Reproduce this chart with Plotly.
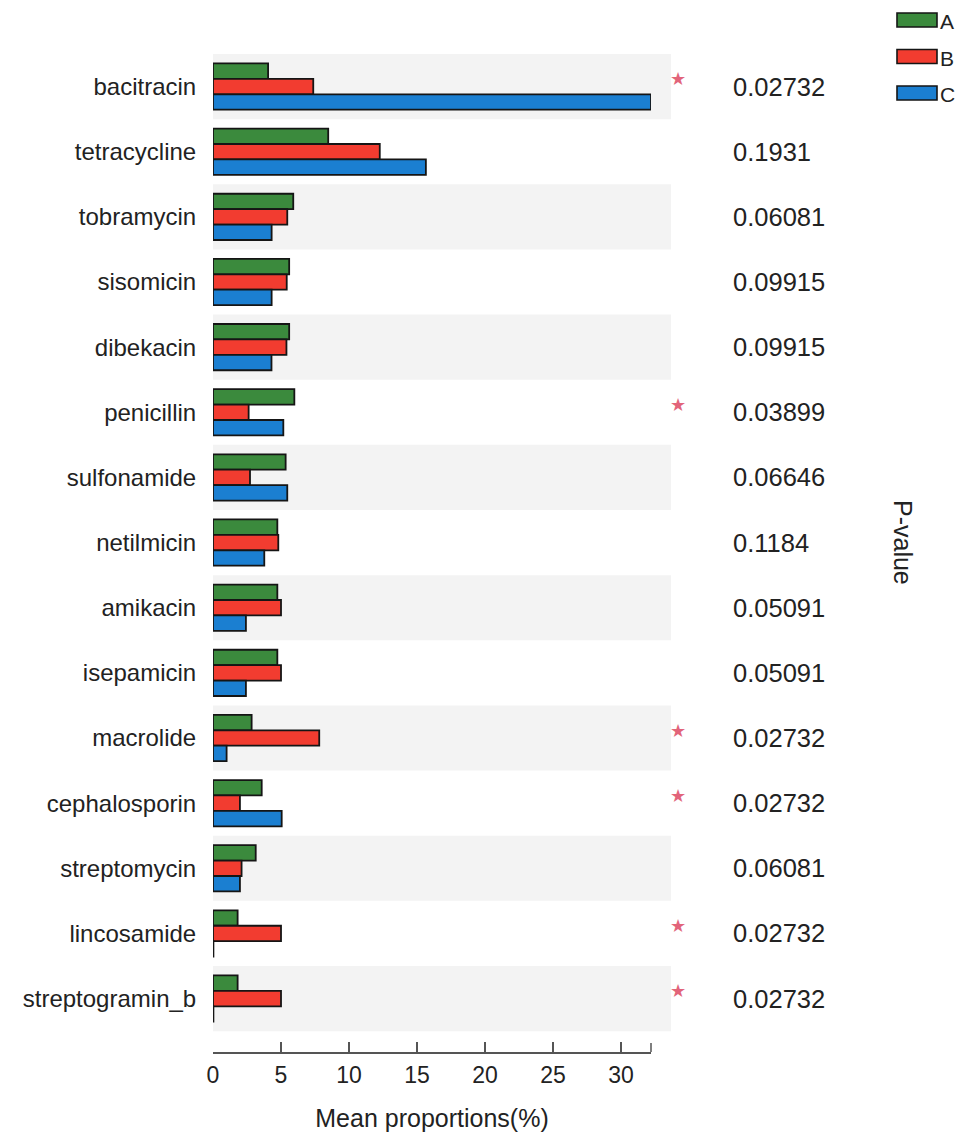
import plotly.graph_objects as go

categories = ["bacitracin", "tetracycline", "tobramycin", "sisomicin", "dibekacin",
              "penicillin", "sulfonamide", "netilmicin", "amikacin", "isepamicin",
              "macrolide", "cephalosporin", "streptomycin", "lincosamide", "streptogramin_b"]
group_a = [4.05, 8.47, 5.9, 5.6, 5.6, 5.98, 5.34, 4.73, 4.73, 4.73, 2.84, 3.58, 3.14, 1.81, 1.81]
group_b = [7.37, 12.26, 5.46, 5.42, 5.4, 2.62, 2.72, 4.8, 5.0, 5.0, 7.81, 1.98, 2.1, 5.0, 5.0]
group_c = [32.2, 15.65, 4.31, 4.31, 4.3, 5.17, 5.46, 3.77, 2.42, 2.42, 1.0, 5.05, 1.98, 0.03, 0.03]
p_values = ["0.02732", "0.1931", "0.06081", "0.09915", "0.09915", "0.03899", "0.06646",
            "0.1184", "0.05091", "0.05091", "0.02732", "0.02732", "0.06081", "0.02732", "0.02732"]
significant = [True, False, False, False, False, True, False, False, False, False,
               True, True, False, True, True]
group_names = ["A", "B", "C"]
colors = ["#3b8a3d", "#f23c30", "#1b7fd1"]
x_ticks = [0, 5, 10, 15, 20, 25, 30]

FONT = "Liberation Sans, Arial, sans-serif"
TXT = "#222222"

W, H = 961, 1138
L, R, T, B = 213, 310, 54, 86
pw, ph = W - L - R, H - T - B
def px_x(px):
    return (px - L) / pw
def px_y(py):
    return (H - B - py) / ph

fig = go.Figure()
for name, vals, col in zip(group_names, [group_a, group_b, group_c], colors):
    fig.add_trace(go.Bar(
        y=categories, x=vals, name=name, orientation="h",
        marker=dict(color=col, line=dict(color="#151515", width=1.8)),
        showlegend=False,
    ))

shapes = []
# alternating background bands
for i, c in enumerate(categories):
    if i % 2 == 0:
        shapes.append(dict(type="rect", xref="paper", yref="y",
                           x0=0, x1=px_x(671), y0=i - 0.5, y1=i + 0.5,
                           fillcolor="#f3f3f3", line=dict(width=0), layer="below"))
# end tick of x axis
shapes.append(dict(type="line", xref="paper", yref="paper", x0=1, x1=1,
                   y0=0, y1=9 / ph, line=dict(color="#555555", width=1.5)))

annotations = []
for i, (c, p, s) in enumerate(zip(categories, p_values, significant)):
    annotations.append(dict(xref="paper", yref="y", x=px_x(731), y=c, text=p,
                            showarrow=False, xanchor="left", yanchor="middle",
                            font=dict(family=FONT, size=25.5, color=TXT)))
    if s:
        annotations.append(dict(xref="paper", yref="y", x=px_x(678), y=c, text="★",
                                showarrow=False, xanchor="center", yanchor="middle",
                                yshift=8,
                                font=dict(family="DejaVu Sans", size=18, color="#e2647a")))

annotations.append(dict(xref="paper", yref="paper", x=px_x(903), y=px_y(542),
                        text="P-value", textangle=90, showarrow=False,
                        xanchor="center", yanchor="middle",
                        font=dict(family=FONT, size=25, color=TXT)))

# legend
leg_y = [20, 56.5, 93]
for name, col, cy in zip(group_names, colors, leg_y):
    shapes.append(dict(type="rect", xref="paper", yref="paper",
                       x0=px_x(897), x1=px_x(937), y0=px_y(cy + 7), y1=px_y(cy - 7),
                       fillcolor=col, line=dict(color="#151515", width=1.6)))
    annotations.append(dict(xref="paper", yref="paper", x=px_x(938), y=px_y(cy + 1.5),
                            text=name, showarrow=False, xanchor="left", yanchor="middle",
                            font=dict(family=FONT, size=21, color=TXT)))

fig.update_layout(
    width=W, height=H,
    margin=dict(l=L, r=R, t=T, b=B, autoexpand=False),
    paper_bgcolor="white", plot_bgcolor="white",
    barmode="group", bargap=0.29, bargroupgap=0,
    shapes=shapes, annotations=annotations,
    font=dict(family=FONT, color=TXT),
)
fig.update_xaxes(
    range=[0, 32.2], tickvals=x_ticks, ticktext=[str(t) for t in x_ticks],
    ticks="inside", ticklen=10, tickwidth=1.5, tickcolor="#555555",
    showline=True, linecolor="#555555", linewidth=1.5,
    showgrid=False, zeroline=False,
    tickfont=dict(family=FONT, size=23, color=TXT),
    ticklabelstandoff=2,
    title=dict(text="Mean proportions(%)", font=dict(family=FONT, size=25, color=TXT), standoff=22),
    automargin=False,
)
fig.update_yaxes(
    type="category", categoryorder="array", categoryarray=categories,
    range=[14.5 + 0.32, -0.5],
    ticks="outside", ticklen=11, tickcolor="rgba(0,0,0,0)",
    showline=False, showgrid=False, zeroline=False,
    tickfont=dict(family=FONT, size=24, color=TXT),
    automargin=False,
)

fig.write_html("out.html")
